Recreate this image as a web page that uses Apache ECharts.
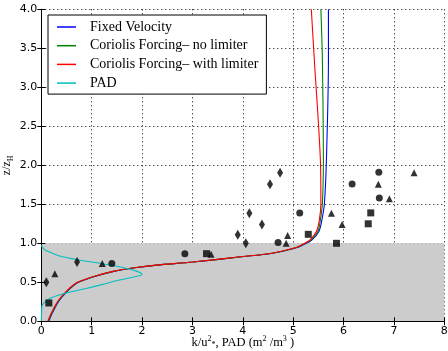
<!DOCTYPE html>
<html><head><meta charset="utf-8">
<script src="https://cdn.jsdelivr.net/npm/echarts@6/dist/echarts.min.js"></script>
<style>html,body{margin:0;padding:0;background:#fff}#c{width:448px;height:351px}</style>
</head><body><div id="c"></div>
<script>
// ---- data ----
const seriesNames = ['Fixed Velocity', 'Coriolis Forcing\u2013 no limiter', 'Coriolis Forcing\u2013 with limiter', 'PAD'];
const profileY = [0.0, 0.08, 0.145, 0.26, 0.38, 0.49, 0.57, 0.64, 0.69, 0.72, 0.76, 0.83, 0.87, 0.914, 0.95, 0.99, 1.04, 1.15, 1.30, 1.51, 2.07, 3.35, 4.0];
const fixedVelocityK = [0.15, 0.20, 0.25, 0.35, 0.51, 0.71, 1.04, 1.44, 1.90, 2.30, 3.02, 4.02, 4.56, 4.89, 5.10, 5.23, 5.37, 5.51, 5.57, 5.62, 5.66, 5.70, 5.70];
const coriolisNoLimK = [0.14, 0.19, 0.24, 0.34, 0.50, 0.70, 1.03, 1.43, 1.89, 2.29, 3.01, 4.01, 4.55, 4.88, 5.08, 5.21, 5.35, 5.49, 5.54, 5.58, 5.60, 5.58, 5.55];
const coriolisLimK = [0.13, 0.18, 0.23, 0.33, 0.49, 0.69, 1.02, 1.42, 1.88, 2.28, 3.00, 4.00, 4.54, 4.87, 5.07, 5.20, 5.33, 5.46, 5.52, 5.55, 5.54, 5.42, 5.36];
const padY = [0.0, 0.1, 0.19, 0.29, 0.35, 0.42, 0.47, 0.53, 0.57, 0.60, 0.64, 0.70, 0.75, 0.79, 0.83, 0.87, 0.91, 0.94, 0.97];
const padX = [0.0, 0.005, 0.01, 0.16, 0.42, 0.89, 1.2, 1.55, 1.85, 2.0, 1.9, 1.55, 1.1, 0.71, 0.4, 0.23, 0.08, 0.03, 0.0];
const diamondPts = [[0.10,0.50],[0.71,0.76],[3.90,1.11],[4.06,1.00],[4.13,1.385],[4.38,1.24],[4.54,1.756],[4.74,1.905]];
const circlePts = [[1.40,0.74],[2.85,0.867],[4.70,1.01],[5.13,1.39],[6.17,1.76],[6.70,1.91],[6.71,1.58]];
const trianglePts = [[0.27,0.61],[1.21,0.74],[3.37,0.86],[4.86,1.00],[4.89,1.10],[5.76,1.385],[5.97,1.24],[6.69,1.756],[6.91,1.57],[7.40,1.905]];
const squarePts = [[0.15,0.235],[3.28,0.867],[5.30,1.115],[5.86,1.00],[6.49,1.25],[6.54,1.39]];
const canopyTop = 1.0;

const zip = (xs, ys) => xs.map((x, i) => [x, ys[i]]);
const chart = echarts.init(document.getElementById('c'));
const serif = '"Liberation Serif", "DejaVu Serif", serif';
const sans = '"DejaVu Sans", sans-serif';

function lineSeries(name, data, color) {
  return { name, type: 'line', data, symbol: 'none', smooth: 0.3,
    lineStyle: { color, width: 1.1 }, itemStyle: { color }, z: 3, animation: false };
}
function scatterSeries(name, data, symbol, size) {
  return { name, type: 'scatter', data, symbol, symbolSize: size,
    itemStyle: { color: '#000' }, z: 4, animation: false };
}
const axisCommon = {
  type: 'value', z: 1,
  axisLine: { show: true, lineStyle: { color: '#000', width: 1 } },
  axisTick: { show: true, inside: true, length: 4, lineStyle: { color: '#000' } },
  splitLine: { show: false }
};

chart.setOption({
  animation: false,
  grid: { left: 41.3, right: 3.7, top: 9.3, bottom: 29.7, containLabel: false, outerBoundsMode: 'none' },
  legend: {
    data: seriesNames, orient: 'vertical', left: 48, top: 15, icon: 'rect',
    backgroundColor: '#fff', borderColor: '#000', borderWidth: 1, borderRadius: 0,
    padding: [5, 8, 4, 9], itemWidth: 19, itemHeight: 1.5, itemGap: 4.7,
    textStyle: { fontFamily: serif, fontSize: 14, color: '#000', lineHeight: 14, padding: [0, 0, 0, 9] }
  },
  xAxis: [
    Object.assign({}, axisCommon, { min: 0, max: 8, interval: 1, position: 'bottom',
      name: '{a|k/u}{s|2}{b|*}{a|, PAD (m}{s|2}{a| /m}{s|3}{a| )}', nameLocation: 'middle', nameGap: 14,
      nameMoveOverlap: false,
      nameTextStyle: { rich: {
        a: { fontFamily: serif, fontSize: 12.5, color: '#000', lineHeight: 14, verticalAlign: 'bottom' },
        s: { fontFamily: serif, fontSize: 8, color: '#000', lineHeight: 14, verticalAlign: 'top' },
        b: { fontFamily: serif, fontSize: 8, color: '#000', lineHeight: 10, verticalAlign: 'bottom' } } },
      axisLabel: { fontFamily: sans, fontSize: 11, color: '#000', margin: 4 },
      splitLine: { show: true, lineStyle: { color: '#000', type: [1, 3], width: 1 } } }),
    Object.assign({}, axisCommon, { min: 0, max: 8, interval: 1, position: 'top', axisLabel: { show: false } })
  ],
  yAxis: [
    Object.assign({}, axisCommon, { min: 0, max: 4, interval: 0.5, position: 'left',
      name: '{a|z/z}{b|H}', nameLocation: 'middle', nameGap: 26, nameMoveOverlap: false,
      nameTextStyle: { rich: {
        a: { fontFamily: serif, fontSize: 12, color: '#000', lineHeight: 14, verticalAlign: 'top' },
        b: { fontFamily: serif, fontSize: 8, color: '#000', lineHeight: 14, verticalAlign: 'bottom' } } },
      axisLabel: { fontFamily: sans, fontSize: 11, color: '#000', margin: 4, formatter: v => v.toFixed(1) },
      splitLine: { show: true, lineStyle: { color: '#000', type: [1, 3], width: 1 } } }),
    Object.assign({}, axisCommon, { min: 0, max: 4, interval: 0.5, position: 'right', axisLabel: { show: false } })
  ],
  series: [
    { name: 'canopy', type: 'line', data: [], z: 0, silent: true,
      markArea: { silent: true, itemStyle: { color: '#cccccc' }, data: [[{ yAxis: 0 }, { yAxis: canopyTop }]] } },
    lineSeries(seriesNames[0], zip(fixedVelocityK, profileY), '#0000ff'),
    lineSeries(seriesNames[1], zip(coriolisNoLimK, profileY), '#008000'),
    lineSeries(seriesNames[2], zip(coriolisLimK, profileY), '#ff0000'),
    lineSeries(seriesNames[3], zip(padX, padY), '#00bfbf'),
    scatterSeries('diamond', diamondPts, 'diamond', [6, 10]),
    scatterSeries('circle', circlePts, 'circle', 7),
    scatterSeries('triangle', trianglePts, 'triangle', 7),
    scatterSeries('square', squarePts, 'rect', 7)
  ]
});
</script></body></html>
